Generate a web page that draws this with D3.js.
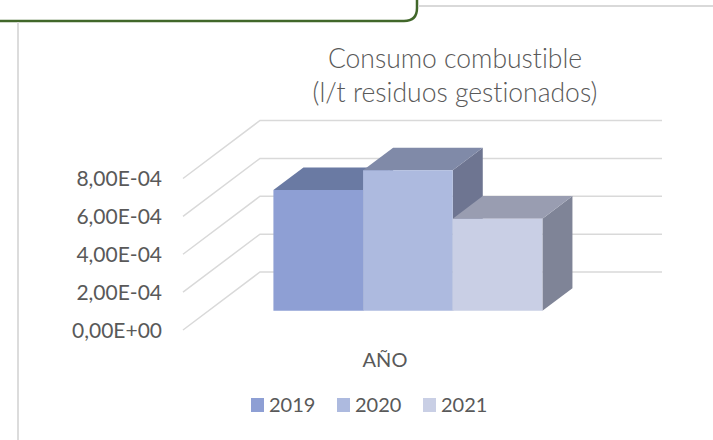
<!DOCTYPE html>
<html>
<head>
<meta charset="utf-8">
<script src="https://cdn.jsdelivr.net/npm/d3@7"></script>
<style>
	body { margin: 0; background: #fff; }
	text { font-family: Lato, "Open Sans", sans-serif; fill: #595959; font-variant-ligatures: none; }
</style>
</head>
<body>
<div id="chart"></div>
<script>
var years = ["2019", "2020", "2021"];
var values = [6.38e-4, 7.42e-4, 4.87e-4];
var ticks = [0, 2e-4, 4e-4, 6e-4, 8e-4];
var frontColors = ["#8e9fd4", "#adbadf", "#c9cfe5"];
var topColors = ["#6a7aa3", "#808aa8", "#999db1"];
var sideColors = ["#5d6a8f", "#6e7591", "#7f8497"];
var titleLines = ["Consumo combustible", "(l/t residuos gestionados)"];

var width = 713;
var height = 440;

// origen del plano frontal (abajo a la izquierda) y vector de profundidad
var x0 = 183, y0 = 330;
var depthX = 77, depthY = 58;
var floorWidth = 402;

var y = d3.scaleLinear().domain([0, 8e-4]).range([0, 151.5]);
var x = d3.scaleBand().domain(years).range([65, 334]).paddingInner(0);
var zFront = 0.33, zBack = 0.72;

function project(px, v, z) {
	return [x0 + px + z * depthX, y0 - y(v) - z * depthY];
}

var svg = d3.select("#chart").append("svg")
	.attr("width", width)
	.attr("height", height);

// marco
svg.append("path")
	.attr("d", "M-5,-5 H417 V8 Q417,21 404,21 H-5")
	.attr("fill", "none")
	.attr("stroke", "#41672a")
	.attr("stroke-width", 2.5);
svg.append("line")
	.attr("x1", 418).attr("x2", width)
	.attr("y1", 6).attr("y2", 6)
	.attr("stroke", "#d9d9d9")
	.attr("stroke-width", 2);
svg.append("line")
	.attr("x1", 18).attr("x2", 18)
	.attr("y1", 22).attr("y2", height)
	.attr("stroke", "#dcdcdc")
	.attr("stroke-width", 2);

// titulo
svg.append("g").selectAll("text")
	.data(titleLines)
	.enter()
	.append("text")
	.attr("x", 455)
	.attr("y", function(d, i) { return 68 + i * 34; })
	.attr("text-anchor", "middle")
	.style("font-size", "26.5px")
	.style("font-weight", 300)
	.text(function(d) { return d; });

// lineas de division (pared lateral y fondo)
var grid = svg.append("g").classed("grid", true);
grid.selectAll("path")
	.data(ticks)
	.enter()
	.append("path")
	.attr("d", function(t) {
		return d3.line()([project(0, t, 0), project(0, t, 1), project(floorWidth, t, 1)]);
	})
	.attr("fill", "none")
	.attr("stroke", "#d9d9d9")
	.attr("stroke-width", 1.5);

// etiquetas eje
var fmt = function(t) {
	var s = t.toExponential(2).replace(".", ",").toUpperCase();
	return s.replace(/E([+-])(\d)$/, "E$10$2");
};
svg.append("g").selectAll("text")
	.data(ticks)
	.enter()
	.append("text")
	.attr("x", function(t) { return project(0, t, 0)[0] - 21; })
	.attr("y", function(t) { return project(0, t, 0)[1]; })
	.attr("dy", "0.36em")
	.attr("text-anchor", "end")
	.style("font-size", "21px")
	.text(fmt);

// barras 3D
var bars = svg.append("g").selectAll(".bar")
	.data(years)
	.enter()
	.append("g")
	.classed("bar", true);

bars.append("path")
	.attr("d", function(d, i) {
		var r = x(d) + x.bandwidth();
		return d3.line()([project(r, 0, zFront), project(r, 0, zBack), project(r, values[i], zBack), project(r, values[i], zFront)]) + "Z";
	})
	.attr("fill", function(d, i) { return sideColors[i]; });

bars.append("path")
	.attr("d", function(d, i) {
		var l = x(d), r = x(d) + x.bandwidth();
		return d3.line()([project(l, values[i], zFront), project(r, values[i], zFront), project(r, values[i], zBack), project(l, values[i], zBack)]) + "Z";
	})
	.attr("fill", function(d, i) { return topColors[i]; });

bars.append("path")
	.attr("d", function(d, i) {
		var l = x(d), r = x(d) + x.bandwidth();
		return d3.line()([project(l, 0, zFront), project(r, 0, zFront), project(r, values[i], zFront), project(l, values[i], zFront)]) + "Z";
	})
	.attr("fill", function(d, i) { return frontColors[i]; });

// titulo eje x
svg.append("text")
	.attr("x", 385)
	.attr("y", 367)
	.attr("text-anchor", "middle")
	.style("font-size", "20px")
	.text("AÑO");

// leyenda
var legend = svg.append("g").selectAll(".item")
	.data(years)
	.enter()
	.append("g")
	.classed("item", true)
	.attr("transform", function(d, i) { return "translate(" + (251 + i * 86) + ",398)"; });
legend.append("rect")
	.attr("width", 13)
	.attr("height", 14)
	.attr("fill", function(d, i) { return frontColors[i]; });
legend.append("text")
	.attr("x", 18)
	.attr("y", 14)
	.style("font-size", "20px")
	.text(function(d) { return d; });
</script>
</body>
</html>
